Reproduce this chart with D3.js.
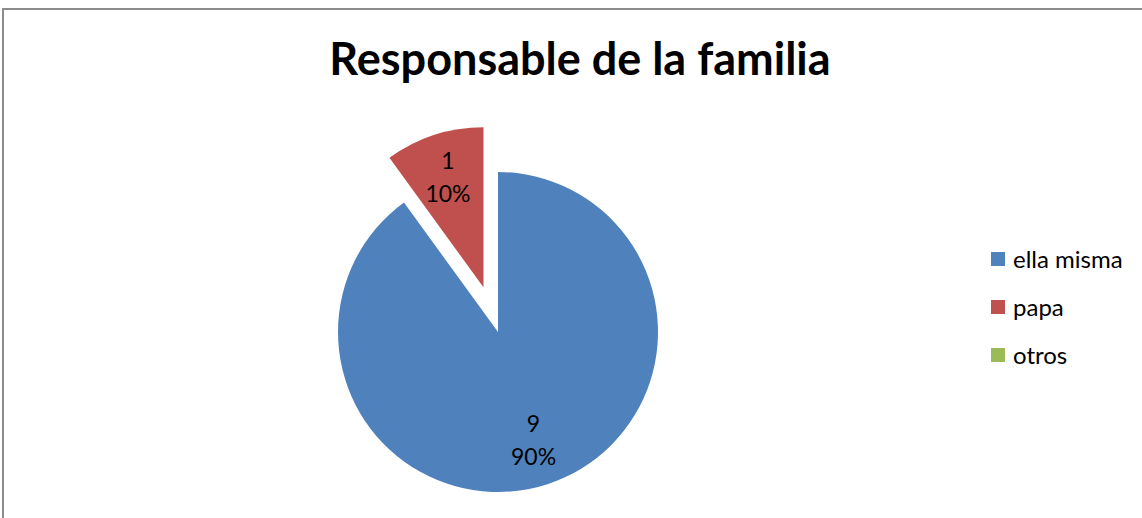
<!DOCTYPE html>
<html lang="es">
<head>
<meta charset="utf-8">
<title>Responsable de la familia</title>
<script src="https://cdnjs.cloudflare.com/ajax/libs/d3/7.8.5/d3.min.js"></script>
<style>
  body { margin: 0; background: #fff; }
  svg { display: block; font-family: Lato, "Open Sans", sans-serif; }
</style>
</head>
<body>
<div id="chart"></div>
<script>
const title = "Responsable de la familia";
const categories = ["ella misma", "papa", "otros"];
const values = [9, 1, 0];
const colors = ["#4F81BD", "#C0504D", "#9BBB59"];
const explode = [0, 47, 0];

const w = 1142, h = 518;
const cx = 498, cy = 332, radius = 160;

const svg = d3.select("#chart").append("svg")
  .attr("width", w)
  .attr("height", h);

// chart frame (runs off right and bottom edges)
svg.append("rect")
  .attr("x", 3).attr("y", 9)
  .attr("width", w + 20).attr("height", h + 20)
  .attr("fill", "#fff")
  .attr("stroke", "#8c8c8c")
  .attr("stroke-width", 2);

svg.append("text")
  .attr("x", 580).attr("y", 75)
  .attr("text-anchor", "middle")
  .attr("font-size", 45)
  .attr("font-weight", "bold")
  .attr("fill", "#000")
  .text(title);

const total = d3.sum(values);
const pie = d3.pie().sort(null).value(d => d.value);
const arcs = pie(categories.map((c, i) => ({ name: c, value: values[i], i })));

const arc = d3.arc().innerRadius(0).outerRadius(radius);
const labelArc = d3.arc().innerRadius(115).outerRadius(115);

const g = svg.append("g").attr("transform", `translate(${cx},${cy})`);

const slice = g.selectAll(".slice")
  .data(arcs.filter(d => d.value > 0))
  .enter().append("g")
  .attr("class", "slice")
  .attr("transform", d => {
    const a = (d.startAngle + d.endAngle) / 2;
    const e = explode[d.data.i];
    return `translate(${Math.sin(a) * e},${-Math.cos(a) * e})`;
  });

slice.append("path")
  .attr("d", arc)
  .attr("fill", d => colors[d.data.i]);

const lbl = slice.append("text")
  .attr("transform", d => `translate(${labelArc.centroid(d)})`)
  .attr("text-anchor", "middle")
  .attr("font-size", 23)
  .attr("fill", "#000");
lbl.append("tspan").attr("x", 0).attr("y", -9).text(d => d.value);
lbl.append("tspan").attr("x", 0).attr("y", 24)
  .text(d => Math.round(d.value / total * 100) + "%");

// legend
const legend = svg.append("g").attr("transform", "translate(991,252)")
  .selectAll("g")
  .data(categories)
  .enter().append("g")
  .attr("transform", (d, i) => `translate(0,${i * 48})`);

legend.append("rect")
  .attr("width", 14).attr("height", 14)
  .attr("fill", (d, i) => colors[i]);

legend.append("text")
  .attr("x", 22).attr("y", 16)
  .attr("font-size", 24)
  .attr("fill", "#000")
  .text(d => d);
</script>
</body>
</html>
